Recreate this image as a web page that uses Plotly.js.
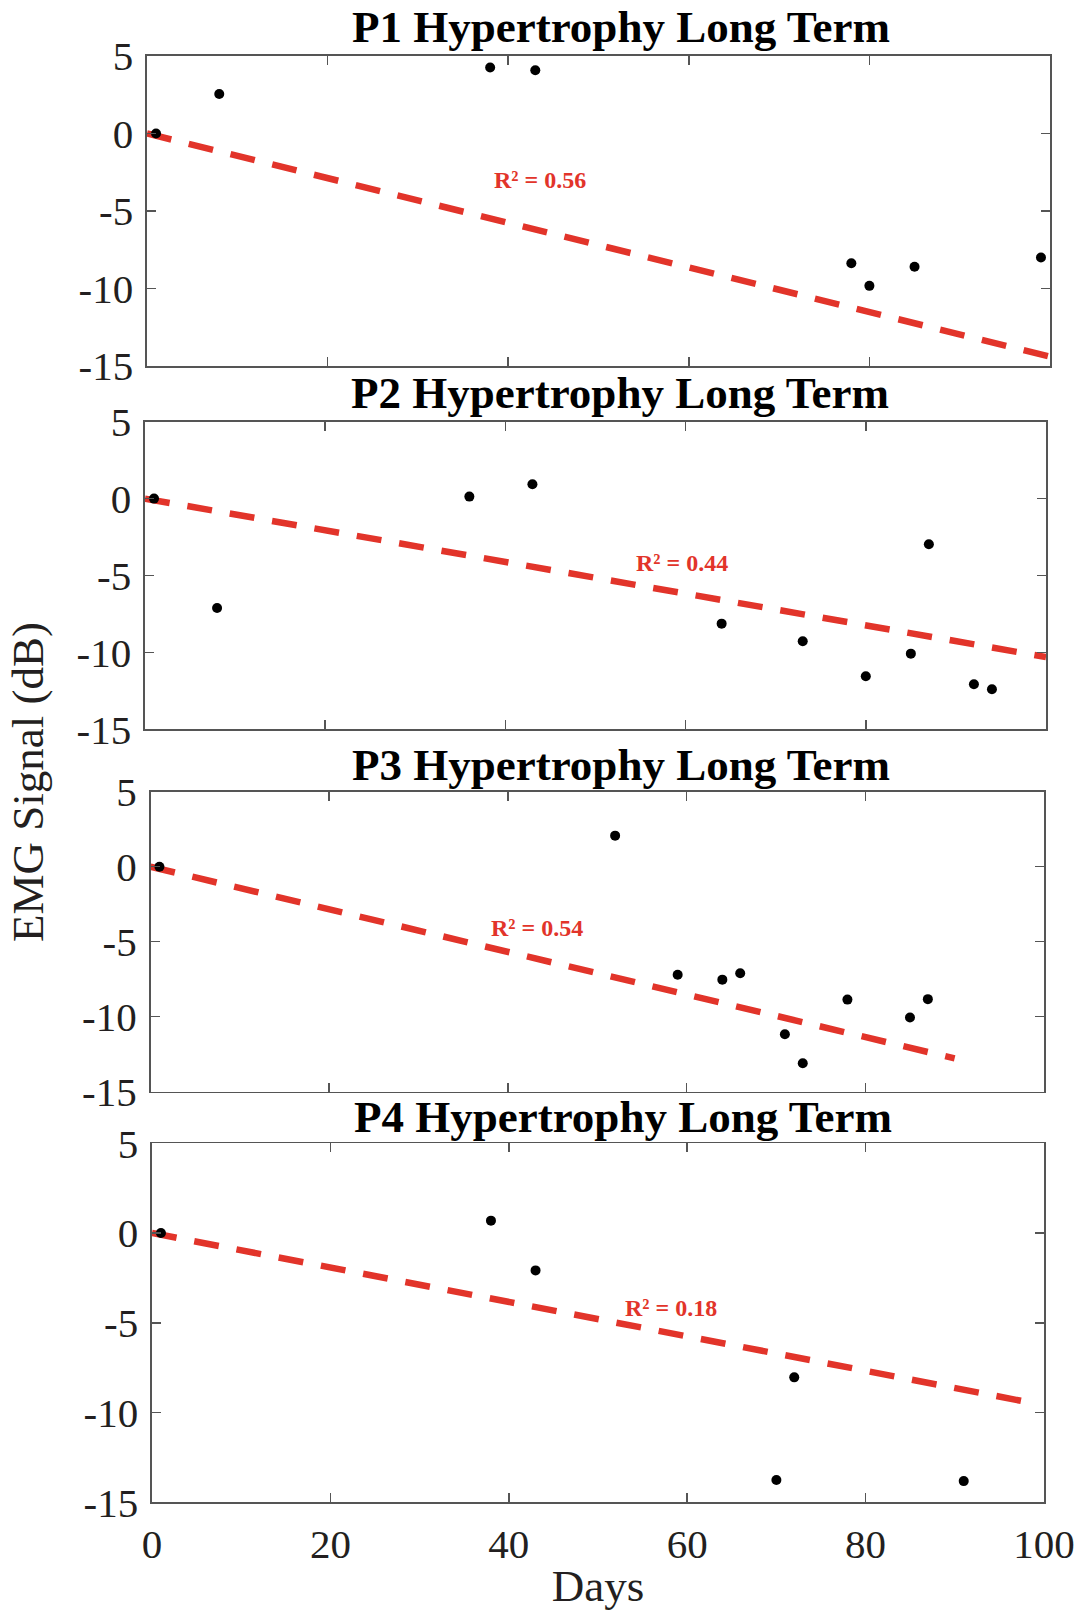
<!DOCTYPE html>
<html>
<head>
<meta charset="utf-8">
<script src="https://cdn.plot.ly/plotly-3.0.1.min.js"></script>
<style>html,body{margin:0;padding:0;background:#fff;}#chart{width:1083px;height:1611px;}</style>
</head>
<body>
<div id="chart"></div>
<script>
// ---- Data ----
const panelTitles = ['P1 Hypertrophy Long Term', 'P2 Hypertrophy Long Term', 'P3 Hypertrophy Long Term', 'P4 Hypertrophy Long Term'];

const days1 = [1, 8, 38, 43, 78, 80, 85, 99];
const emg1  = [0, 2.55, 4.26, 4.08, -8.37, -9.83, -8.6, -8.0];
const fitX1 = [0, 100];
const fitY1 = [0, -14.4];

const days2 = [1, 8, 36, 43, 64, 73, 80, 85, 87, 92, 94];
const emg2  = [0, -7.11, 0.13, 0.93, -8.13, -9.28, -11.55, -10.08, -2.97, -12.07, -12.4];
const fitX2 = [0, 100];
const fitY2 = [0, -10.3];

const days3 = [1, 52, 59, 64, 66, 71, 73, 78, 85, 87];
const emg3  = [0, 2.07, -7.2, -7.53, -7.1, -11.17, -13.1, -8.86, -10.05, -8.83];
const fitX3 = [0, 90];
const fitY3 = [0, -12.78];

const days4 = [1, 38, 43, 70, 72, 91];
const emg4  = [0, 0.69, -2.08, -13.76, -8.04, -13.82];
const fitX4 = [0, 98];
const fitY4 = [0, -9.4];

const r2Labels = ['R\u00B2 = 0.56', 'R\u00B2 = 0.44', 'R\u00B2 = 0.54', 'R\u00B2 = 0.18'];

const xTickVals = [0, 20, 40, 60, 80, 100];
const xTickText = ['0', '20', '40', '60', '80', '100'];
const yTickVals = [-15, -10, -5, 0, 5];
const yTickText = ['-15', '-10', '-5', '0', '5'];
const xAxisTitle = 'Days';
const yAxisTitle = 'EMG Signal (dB)';

// ---- Layout (pixels) ----
const W = 1083, H = 1611;
const boxes = [
  {l: 147, r: 1050, t: 56,    b: 366},
  {l: 145, r: 1046, t: 421.7, b: 729.3},
  {l: 150.5, r: 1044, t: 791.7, b: 1091.7},
  {l: 152, r: 1044, t: 1143.3, b: 1502.3}
];
const r2Pos = [[43.5, -3.0], [59.6, -4.19], [43.3, -4.1], [58.2, -4.2]];
const titleCenters = [[621, 27], [620, 393], [621, 765], [623, 1117]];

const daysAll = [days1, days2, days3, days4];
const emgAll = [emg1, emg2, emg3, emg4];
const fitXAll = [fitX1, fitX2, fitX3, fitX4];
const fitYAll = [fitY1, fitY2, fitY3, fitY4];

const serif = 'Liberation Serif, Times New Roman, serif';
const red = '#e2342a';
const frame = '#555555';

const traces = [];
const layout = {
  width: W, height: H,
  margin: {l: 0, r: 0, t: 0, b: 0},
  paper_bgcolor: '#ffffff',
  plot_bgcolor: '#ffffff',
  showlegend: false,
  annotations: []
};

for (let i = 0; i < 4; i++) {
  const n = i === 0 ? '' : String(i + 1);
  const bx = boxes[i];
  traces.push({
    x: fitXAll[i], y: fitYAll[i], type: 'scatter', mode: 'lines',
    line: {color: red, width: 6.5, dash: '25px,18px'},
    xaxis: 'x' + n, yaxis: 'y' + n, hoverinfo: 'skip'
  });
  traces.push({
    x: daysAll[i], y: emgAll[i], type: 'scatter', mode: 'markers',
    marker: {color: '#000000', size: 10},
    xaxis: 'x' + n, yaxis: 'y' + n, cliponaxis: false
  });
  const isLast = i === 3;
  layout['xaxis' + n] = {
    domain: [bx.l / W, bx.r / W],
    anchor: 'y' + n,
    range: [0, 100],
    tickmode: 'array', tickvals: xTickVals, ticktext: xTickText,
    showticklabels: isLast,
    ticks: 'inside', ticklen: 9, tickwidth: 1.5, tickcolor: frame,
    showline: true, linecolor: frame, linewidth: 1.6, mirror: 'ticks',
    showgrid: false, zeroline: false,
    tickfont: {family: serif, size: 41, color: '#231f20'},
    ticklabelstandoff: 5,
    title: isLast ? {text: xAxisTitle, font: {family: serif, size: 45, color: '#231f20'}, standoff: 10} : {text: ''}
  };
  layout['yaxis' + n] = {
    domain: [1 - bx.b / H, 1 - bx.t / H],
    anchor: 'x' + n,
    range: [-15, 5],
    tickmode: 'array', tickvals: yTickVals, ticktext: yTickText,
    ticks: 'inside', ticklen: 9, tickwidth: 1.5, tickcolor: frame,
    showline: true, linecolor: frame, linewidth: 1.6, mirror: 'ticks',
    showgrid: false, zeroline: false,
    tickfont: {family: serif, size: 41, color: '#231f20'},
    ticklabelstandoff: 4
  };
  layout.annotations.push({
    text: '<b>' + panelTitles[i] + '</b>',
    xref: 'paper', yref: 'paper',
    x: titleCenters[i][0] / W, y: 1 - titleCenters[i][1] / H,
    xanchor: 'center', yanchor: 'middle', showarrow: false,
    font: {family: serif, size: 45, color: '#000000'}
  });
  layout.annotations.push({
    text: '<b>' + r2Labels[i] + '</b>',
    xref: 'x' + n, yref: 'y' + n,
    x: r2Pos[i][0], y: r2Pos[i][1],
    xanchor: 'center', yanchor: 'middle', showarrow: false,
    font: {family: serif, size: 24, color: red}
  });
}

layout.annotations.push({
  text: yAxisTitle,
  xref: 'paper', yref: 'paper',
  x: 28 / W, y: 1 - 782 / H,
  xanchor: 'center', yanchor: 'middle', textangle: -90, showarrow: false,
  font: {family: serif, size: 45, color: '#231f20'}
});

Plotly.newPlot('chart', traces, layout, {displayModeBar: false, staticPlot: true});
</script>
</body>
</html>
